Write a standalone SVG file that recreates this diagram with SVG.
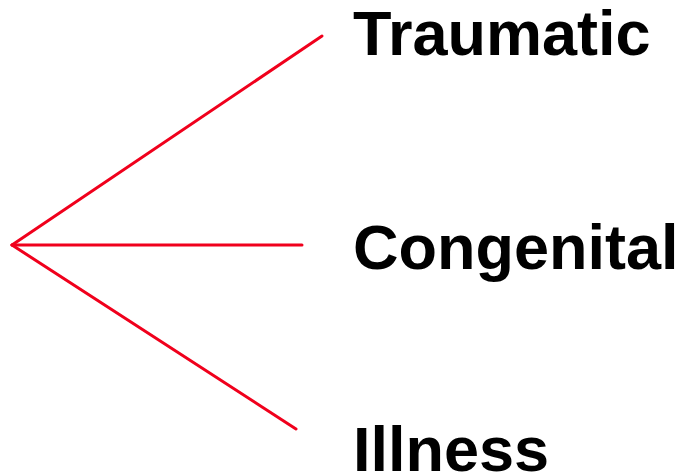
<svg xmlns="http://www.w3.org/2000/svg" width="685" height="476" viewBox="0 0 685 476">
<style>
.l{stroke:#f0001c;stroke-width:3;fill:none;stroke-linecap:round}
.t{font-family:"Liberation Sans",Arial,sans-serif;font-weight:bold;font-size:63px;fill:#000}
</style>
<rect width="685" height="476" fill="#fff"/>
<g id="connectors">
<line class="l" x1="12" y1="245" x2="322" y2="36"/>
<line class="l" x1="12" y1="245" x2="302" y2="245"/>
<line class="l" x1="12" y1="245" x2="296" y2="429"/>
</g>
<g id="traumatic"><text class="t" x="353" y="55">Traumatic</text></g>
<g id="congenital"><text class="t" x="353" y="269">Congenital</text></g>
<g id="illness"><text class="t" x="353" y="471">Illness</text></g>
</svg>
